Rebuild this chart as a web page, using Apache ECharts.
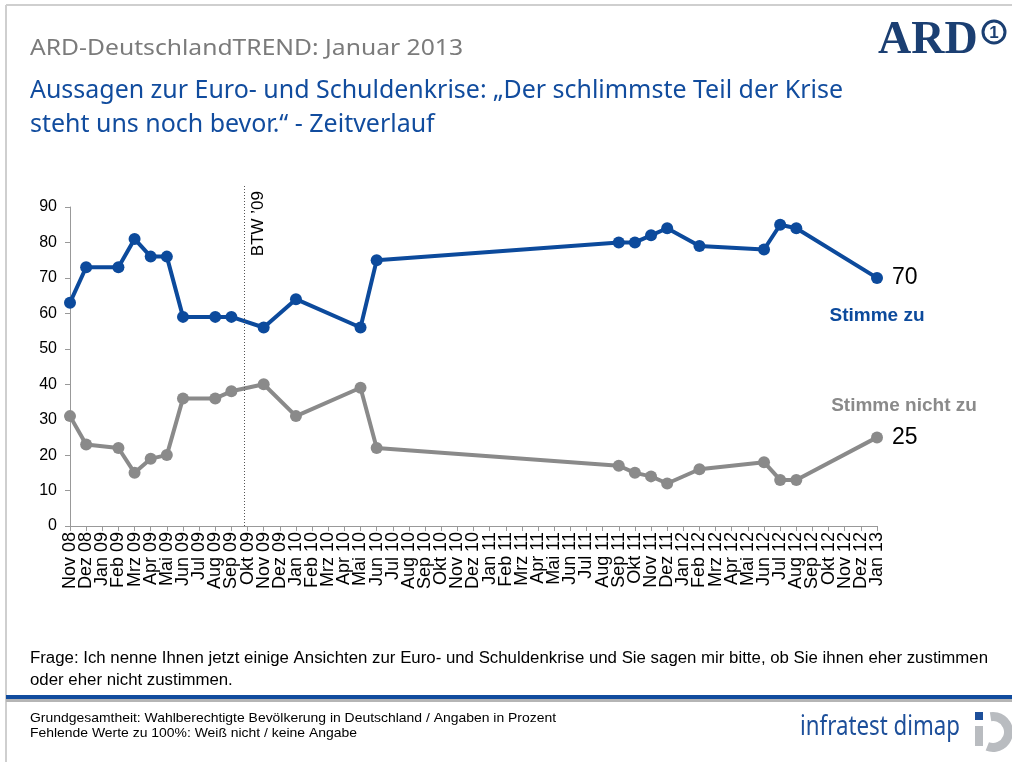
<!DOCTYPE html>
<html><head><meta charset="utf-8">
<script src="https://cdn.jsdelivr.net/npm/echarts@6/dist/echarts.min.js"></script>
<style>html,body{margin:0;padding:0;background:#fff}#c{width:1012px;height:762px}</style>
</head><body><div id="c"></div><script>
const months = ['Nov 08','Dez 08','Jan 09','Feb 09','Mrz 09','Apr 09','Mai 09','Jun 09','Jul 09','Aug 09','Sep 09','Okt 09',
  'Nov 09','Dez 09','Jan 10','Feb 10','Mrz 10','Apr 10','Mai 10','Jun 10','Jul 10','Aug 10','Sep 10','Okt 10',
  'Nov 10','Dez 10','Jan 11','Feb 11','Mrz 11','Apr 11','Mai 11','Jun 11','Jul 11','Aug 11','Sep 11','Okt 11',
  'Nov 11','Dez 11','Jan 12','Feb 12','Mrz 12','Apr 12','Mai 12','Jun 12','Jul 12','Aug 12','Sep 12','Okt 12',
  'Nov 12','Dez 12','Jan 13'];
const surveyMonths = ['Nov 08','Dez 08','Feb 09','Mrz 09','Apr 09','Mai 09','Jun 09','Aug 09','Sep 09','Nov 09','Jan 10',
  'Mai 10','Jun 10','Sep 11','Okt 11','Nov 11','Dez 11','Feb 12','Jun 12','Jul 12','Aug 12','Jan 13'];
const stimmeZu = [63,73,73,81,76,76,59,59,59,56,64,56,75,80,80,82,84,79,78,85,84,70];
const stimmeNichtZu = [31,23,22,15,19,20,36,36,38,40,31,39,22,17,15,14,12,16,18,13,13,25];
const yMin = 0, yMax = 90, yStep = 10;
const btwPosition = 10.8; // Bundestagswahl 27.09.2009 (Sep 09 + ~0.8 Monat)
const btwLabel = 'BTW \u201909';

const BLUE = '#0c4a9c', GRAY = '#8a8a8a', TITLEBLUE = '#114c9e';
const SANS = "'Liberation Sans',Arial,sans-serif";
const HUM = "'Noto Sans','Open Sans',sans-serif";

// layout
const G = { left: 70, right: 135, top: 207, bottom: 236 };
const btwTopPx = 185;
const btwTop = yMax * (762 - G.bottom - btwTopPx) / (762 - G.bottom - G.top);

const mctx = document.createElement('canvas').getContext('2d');
function fitScale(text, font, width) { mctx.font = font; return width / mctx.measureText(text).width; }

function mkData(vals) {
  return surveyMonths.map((m, i) => {
    const item = { value: [m, vals[i]] };
    if (i === vals.length - 1) {
      item.label = { show: true, position: 'right', distance: 9, color: '#000', fontSize: 23, fontFamily: SANS, formatter: String(vals[i]) };
    }
    return item;
  });
}

function txt(text, x, y, font, fill, scaleX) {
  return { type: 'text', x: x, y: y, scaleX: scaleX || 1, silent: true,
    style: { text: text, fill: fill, font: font, align: 'left', verticalAlign: 'middle' } };
}

const fTitle = "21px " + HUM;
const tTitle = 'ARD-DeutschlandTREND: Januar 2013';
const fSub = "26px " + HUM;
const tSub1 = 'Aussagen zur Euro- und Schuldenkrise: \u201eDer schlimmste Teil der Krise';
const tSub2 = 'steht uns noch bevor.\u201c - Zeitverlauf';
const fQ = "16px " + SANS;
const tQ1 = 'Frage: Ich nenne Ihnen jetzt einige Ansichten zur Euro- und Schuldenkrise und Sie sagen mir bitte, ob Sie ihnen eher zustimmen';
const tQ2 = 'oder eher nicht zustimmen.';
const fB = "13px " + SANS;
const tB1 = 'Grundgesamtheit: Wahlberechtigte Bevölkerung in Deutschland / Angaben in Prozent';
const tB2 = 'Fehlende Werte zu 100%: Weiß nicht / keine Angabe';
const fI = "27px " + HUM;
const tI = 'infratest dimap';

const sTitle = fitScale(tTitle, fTitle, 433);
const sSub = fitScale(tSub1, fSub, 813);
const sQ = fitScale(tQ1, fQ, 958);
const sB = fitScale(tB1, fB, 526);
const sI = fitScale(tI, fI, 160);

const chart = echarts.init(document.getElementById('c'), null, { renderer: 'canvas' });
chart.setOption({
  animation: false,
  backgroundColor: '#fff',
  grid: [
    { left: G.left, right: G.right, top: G.top, bottom: G.bottom },
    { left: G.left, right: G.right, top: btwTopPx, bottom: G.bottom }
  ],
  xAxis: [{
    type: 'category', data: months, boundaryGap: false, gridIndex: 0,
    axisLine: { lineStyle: { color: '#999', width: 1 } },
    axisTick: { show: true, alignWithLabel: true, interval: 0, length: 5, lineStyle: { color: '#999' } },
    axisLabel: { interval: 0, rotate: 90, color: '#000', fontSize: 18, fontFamily: SANS, margin: 6 }
  }, {
    type: 'value', gridIndex: 1, min: 0, max: months.length - 1, show: false
  }],
  yAxis: [{
    type: 'value', min: yMin, max: yMax, interval: yStep, gridIndex: 0,
    axisLine: { show: true, lineStyle: { color: '#999', width: 1 } },
    axisTick: { show: true, length: 5, lineStyle: { color: '#999' } },
    splitLine: { show: false },
    axisLabel: { color: '#000', fontSize: 16, fontFamily: SANS, margin: 13 }
  }, {
    type: 'value', gridIndex: 1, min: yMin, max: btwTop, show: false, splitLine: { show: false }
  }],
  series: [{
    name: 'Stimme zu', type: 'line', data: mkData(stimmeZu),
    lineStyle: { color: BLUE, width: 4 }, itemStyle: { color: BLUE },
    symbol: 'circle', symbolSize: 12, z: 3
  }, {
    name: 'Stimme nicht zu', type: 'line', data: mkData(stimmeNichtZu),
    lineStyle: { color: GRAY, width: 4 }, itemStyle: { color: GRAY },
    symbol: 'circle', symbolSize: 12, z: 3
  }, {
    name: 'BTW', type: 'line', xAxisIndex: 1, yAxisIndex: 1, data: [],
    markLine: {
      silent: true, symbol: ['none', 'none'], animation: false,
      lineStyle: { color: '#555', type: [1, 2], width: 1 },
      label: { show: true, position: 'insideEndBottom', formatter: btwLabel, color: '#000', fontSize: 17, fontFamily: SANS, distance: 6 },
      emphasis: { disabled: true },
      data: [[{ coord: [btwPosition, yMin] }, { coord: [btwPosition, btwTop] }]]
    }
  }],
  graphic: [
    { type: 'line', shape: { x1: 6, y1: 5, x2: 1012, y2: 5 }, style: { stroke: '#cfcfcf', lineWidth: 2 } },
    { type: 'line', shape: { x1: 6, y1: 5, x2: 6, y2: 762 }, style: { stroke: '#cfcfcf', lineWidth: 2 } },
    txt(tTitle, 30, 49, fTitle, '#7b7b7b', sTitle),
    txt(tSub1, 30, 91, fSub, TITLEBLUE, sSub),
    txt(tSub2, 30, 125, fSub, TITLEBLUE, sSub),
    { type: 'text', left: 878, top: 18, style: { text: 'ARD', fill: '#1b3f72', font: "bold 46px 'Liberation Serif','DejaVu Serif',serif" } },
    { type: 'circle', shape: { cx: 994, cy: 32, r: 11 }, style: { fill: '#fff', stroke: '#1b3f72', lineWidth: 3 } },
    { type: 'text', x: 994, y: 33, style: { text: '1', fill: '#1b3f72', font: "bold 17px " + SANS, align: 'center', verticalAlign: 'middle' } },
    { type: 'text', x: 877, y: 316, style: { text: 'Stimme zu', fill: BLUE, font: "bold 19px " + SANS, align: 'center', verticalAlign: 'middle' } },
    { type: 'text', x: 904, y: 406, style: { text: 'Stimme nicht zu', fill: GRAY, font: "bold 19px " + SANS, align: 'center', verticalAlign: 'middle' } },
    txt(tQ1, 30, 659, fQ, '#000', sQ),
    txt(tQ2, 30, 681, fQ, '#000', sQ),
    { type: 'rect', shape: { x: 6, y: 695, width: 1006, height: 4 }, style: { fill: TITLEBLUE } },
    { type: 'rect', shape: { x: 6, y: 699, width: 1006, height: 3 }, style: { fill: '#b5b5b5' } },
    txt(tB1, 30, 718, fB, '#000', sB),
    txt(tB2, 30, 733, fB, '#000', sB),
    txt(tI, 800, 727, fI, '#1d4f9a', sI),
    { type: 'rect', shape: { x: 975, y: 712, width: 8, height: 8 }, style: { fill: '#1d4f9a' } },
    { type: 'rect', shape: { x: 975, y: 726, width: 8, height: 20 }, style: { fill: '#b9bcc0' } },
    { type: 'sector', shape: { cx: 993, cy: 732, r0: 11, r: 20, startAngle: -Math.PI * 0.55, endAngle: Math.PI * 0.62 }, style: { fill: '#b9bcc0' } }
  ]
});
</script></body></html>
